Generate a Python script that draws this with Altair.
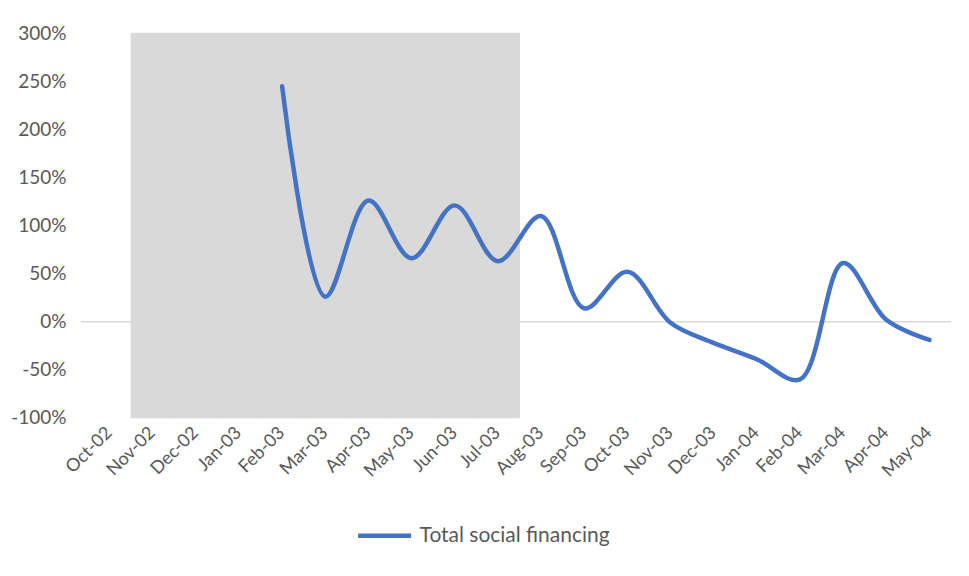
import altair as alt
import pandas as pd

months = ["Oct-02", "Nov-02", "Dec-02", "Jan-03", "Feb-03", "Mar-03", "Apr-03",
          "May-03", "Jun-03", "Jul-03", "Aug-03", "Sep-03", "Oct-03", "Nov-03",
          "Dec-03", "Jan-04", "Feb-04", "Mar-04", "Apr-04", "May-04"]
values = [None, None, None, None, 245, 26, 126, 66, 121, 63, 110, 14, 52, -1,
          -22, -39, -60, 61, 2, -19]
shaded = ["Nov-02", "Dec-02", "Jan-03", "Feb-03", "Mar-03", "Apr-03",
          "May-03", "Jun-03", "Jul-03"]
series_name = "Total social financing"
y_ticks = [-100, -50, 0, 50, 100, 150, 200, 250, 300]

W, H = 864, 385
FONT = "Lato"
GREY_TXT = "#595959"

line_df = pd.DataFrame({"month": months, "value": values, "series": series_name}).dropna()
shade_df = pd.DataFrame({"month": shaded, "top": 300, "bottom": -100})

x_scale = alt.Scale(domain=months, paddingInner=0, paddingOuter=0)
y_scale = alt.Scale(domain=[-100, 300], nice=False)

x_axis = alt.Axis(title=None, labelAngle=-45, labelAlign="right", labelBaseline="middle",
                  labelPadding=12, ticks=False, domain=False, grid=False,
                  labelFont=FONT, labelFontSize=18, labelColor=GREY_TXT)
y_axis = alt.Axis(title=None, values=y_ticks, labelExpr="datum.value + '%'",
                  ticks=False, domain=False, grid=False, labelPadding=22,
                  labelFont=FONT, labelFontSize=19, labelColor=GREY_TXT)

zero = alt.Chart(pd.DataFrame({"y": [0]})).mark_rule(color="#d9d9d9", strokeWidth=1.5).encode(
    x=alt.value(-7), x2=alt.value(W),
    y=alt.Y("y:Q", scale=y_scale, axis=y_axis),
)

shade = alt.Chart(shade_df).mark_bar(color="#d9d9d9", stroke="#d9d9d9", strokeWidth=1).encode(
    x=alt.X("month:N", scale=x_scale, axis=x_axis, sort=months),
    y=alt.Y("top:Q", scale=y_scale),
    y2="bottom:Q",
)

line = alt.Chart(line_df).mark_line(interpolate="catmull-rom", strokeWidth=4.5,
                                    strokeCap="round").encode(
    x=alt.X("month:N", scale=x_scale, sort=months),
    y=alt.Y("value:Q", scale=y_scale),
    color=alt.Color("series:N", scale=alt.Scale(range=["#4472c4"]),
                    legend=alt.Legend(title=None, orient="none", legendX=268, legendY=474,
                                      symbolType="stroke", symbolSize=2809,
                                      symbolStrokeWidth=4.5, labelFont=FONT,
                                      labelFontSize=21, labelColor=GREY_TXT,
                                      labelOffset=6, labelLimit=400)),
)

chart = alt.layer(zero, shade, line).properties(
    width=W, height=H,
    autosize=alt.AutoSizeParams(type="none"),
    padding={"left": 80, "top": 25, "right": 10, "bottom": 148},
).configure(background="white").configure_view(stroke=None, strokeWidth=0)

chart.save("out.html", embed_options={"renderer": "svg", "actions": False})
